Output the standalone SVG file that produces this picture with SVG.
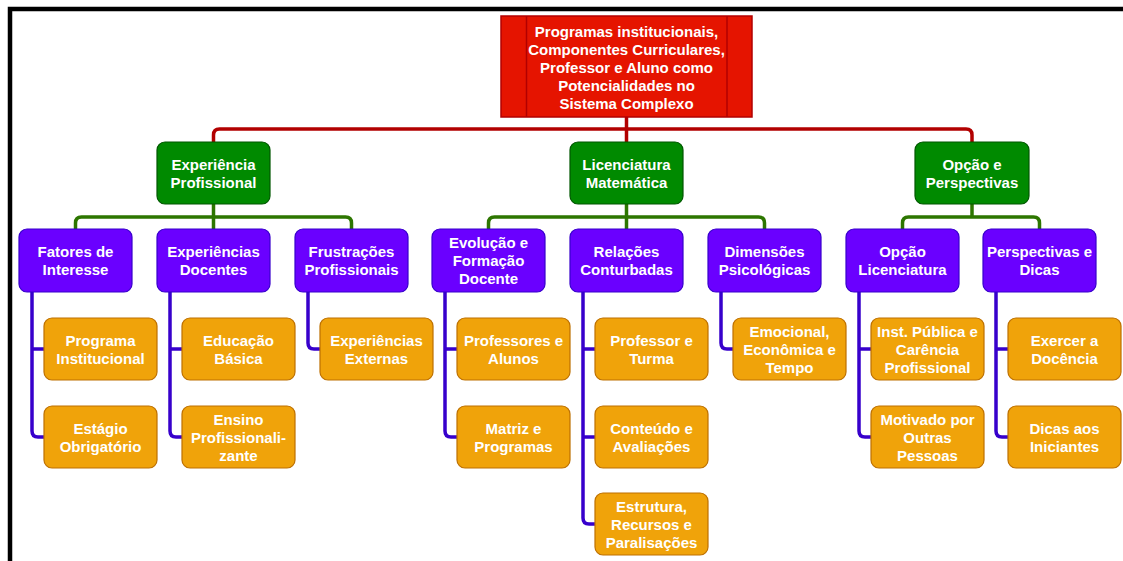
<svg xmlns="http://www.w3.org/2000/svg" width="1123" height="561" viewBox="0 0 1123 561">
<style>
text{font-family:"Liberation Sans",Arial,Helvetica,sans-serif;font-weight:bold;font-size:15px;fill:#fff;text-anchor:middle}
.root{fill:#e51400;stroke:#b20000;stroke-width:1.5}
.l1{fill:#008a00;stroke:#005700;stroke-width:1.2}
.l2{fill:#6a00ff;stroke:#3700cc;stroke-width:1.2}
.l3{fill:#f0a30a;stroke:#bd7000;stroke-width:1.2}
.cr{fill:none;stroke:#b20000;stroke-width:3.5}
.cg{fill:none;stroke:#2d7600;stroke-width:3.5}
.cp{fill:none;stroke:#3700cc;stroke-width:3.5}
</style>
<rect width="1123" height="561" fill="#fff"/>
<path d="M10,561 V9 H1123" fill="none" stroke="#000" stroke-width="4.5"/>
<g id="connectors">
<path class="cr" d="M213.5,142 V135 Q213.5,129 219.5,129 H966 Q972,129 972,135 V142 M626.5,117 V142"/>
<path class="cg" d="M75.5,229 V223 Q75.5,217 81.5,217 H345.5 Q351.5,217 351.5,223 V229 M213.5,204 V229"/>
<path class="cg" d="M488.5,229 V223 Q488.5,217 494.5,217 H758.5 Q764.5,217 764.5,223 V229 M626.5,204 V229"/>
<path class="cg" d="M902.5,229 V223 Q902.5,217 908.5,217 H1033.5 Q1039.5,217 1039.5,223 V229 M972,204 V217"/>
<path class="cp" d="M32,292 V431 Q32,437 38,437 H44 M32,349 H44"/>
<path class="cp" d="M170,292 V431 Q170,437 176,437 H182 M170,349 H182"/>
<path class="cp" d="M308,292 V343 Q308,349 314,349 H320"/>
<path class="cp" d="M445,292 V431 Q445,437 451,437 H457 M445,349 H457"/>
<path class="cp" d="M583,292 V518 Q583,524 589,524 H595 M583,349 H595 M583,437 H595"/>
<path class="cp" d="M721,292 V343 Q721,349 727,349 H733"/>
<path class="cp" d="M859,292 V431 Q859,437 865,437 H871 M859,349 H871"/>
<path class="cp" d="M996,292 V431 Q996,437 1002,437 H1008 M996,349 H1008"/>
</g>
<g id="root">
<rect class="root" x="501" y="16" width="251" height="101"/>
<path d="M526.5,16 V117 M727,16 V117" stroke="#b20000" stroke-width="1.5"/>
<text x="626.5" y="37">Programas institucionais,</text>
<text x="626.5" y="55">Componentes Curriculares,</text>
<text x="626.5" y="73">Professor e Aluno como</text>
<text x="626.5" y="91">Potencialidades no</text>
<text x="626.5" y="109">Sistema Complexo</text>
</g>
<g id="experiencia-profissional"><rect class="l1" x="157" y="142" width="113" height="62" rx="8"/><text x="213.5" y="169.5">Experiência</text><text x="213.5" y="187.5">Profissional</text></g>
<g id="licenciatura-matematica"><rect class="l1" x="570" y="142" width="113" height="62" rx="8"/><text x="626.5" y="169.5">Licenciatura</text><text x="626.5" y="187.5">Matemática</text></g>
<g id="opcao-perspectivas"><rect class="l1" x="915" y="142" width="114" height="62" rx="8"/><text x="972" y="169.5">Opção e</text><text x="972" y="187.5">Perspectivas</text></g>
<g id="fatores"><rect class="l2" x="19" y="229" width="113" height="63" rx="8"/><text x="75.5" y="257">Fatores de</text><text x="75.5" y="275">Interesse</text></g>
<g id="exp-docentes"><rect class="l2" x="157" y="229" width="113" height="63" rx="8"/><text x="213.5" y="257">Experiências</text><text x="213.5" y="275">Docentes</text></g>
<g id="frustracoes"><rect class="l2" x="295" y="229" width="113" height="63" rx="8"/><text x="351.5" y="257">Frustrações</text><text x="351.5" y="275">Profissionais</text></g>
<g id="evolucao"><rect class="l2" x="432" y="229" width="113" height="63" rx="8"/><text x="488.5" y="248">Evolução e</text><text x="488.5" y="266">Formação</text><text x="488.5" y="284">Docente</text></g>
<g id="relacoes"><rect class="l2" x="570" y="229" width="113" height="63" rx="8"/><text x="626.5" y="257">Relações</text><text x="626.5" y="275">Conturbadas</text></g>
<g id="dimensoes"><rect class="l2" x="708" y="229" width="113" height="63" rx="8"/><text x="764.5" y="257">Dimensões</text><text x="764.5" y="275">Psicológicas</text></g>
<g id="opcao-licenciatura"><rect class="l2" x="846" y="229" width="113" height="63" rx="8"/><text x="902.5" y="257">Opção</text><text x="902.5" y="275">Licenciatura</text></g>
<g id="perspectivas-dicas"><rect class="l2" x="983" y="229" width="113" height="63" rx="8"/><text x="1039.5" y="257">Perspectivas e</text><text x="1039.5" y="275">Dicas</text></g>
<g id="programa-institucional"><rect class="l3" x="44" y="318" width="113" height="62" rx="8"/><text x="100.5" y="345.5">Programa</text><text x="100.5" y="363.5">Institucional</text></g>
<g id="estagio"><rect class="l3" x="44" y="406" width="113" height="62" rx="8"/><text x="100.5" y="433.5">Estágio</text><text x="100.5" y="451.5">Obrigatório</text></g>
<g id="educacao-basica"><rect class="l3" x="182" y="318" width="113" height="62" rx="8"/><text x="238.5" y="345.5">Educação</text><text x="238.5" y="363.5">Básica</text></g>
<g id="ensino-prof"><rect class="l3" x="182" y="406" width="113" height="62" rx="8"/><text x="238.5" y="424.5">Ensino</text><text x="238.5" y="442.5">Profissionali-</text><text x="238.5" y="460.5">zante</text></g>
<g id="exp-externas"><rect class="l3" x="320" y="318" width="113" height="62" rx="8"/><text x="376.5" y="345.5">Experiências</text><text x="376.5" y="363.5">Externas</text></g>
<g id="professores-alunos"><rect class="l3" x="457" y="318" width="113" height="62" rx="8"/><text x="513.5" y="345.5">Professores e</text><text x="513.5" y="363.5">Alunos</text></g>
<g id="matriz-programas"><rect class="l3" x="457" y="406" width="113" height="62" rx="8"/><text x="513.5" y="433.5">Matriz e</text><text x="513.5" y="451.5">Programas</text></g>
<g id="professor-turma"><rect class="l3" x="595" y="318" width="113" height="62" rx="8"/><text x="651.5" y="345.5">Professor e</text><text x="651.5" y="363.5">Turma</text></g>
<g id="conteudo-avaliacoes"><rect class="l3" x="595" y="406" width="113" height="62" rx="8"/><text x="651.5" y="433.5">Conteúdo e</text><text x="651.5" y="451.5">Avaliações</text></g>
<g id="estrutura"><rect class="l3" x="595" y="493" width="113" height="62" rx="8"/><text x="651.5" y="511.5">Estrutura,</text><text x="651.5" y="529.5">Recursos e</text><text x="651.5" y="547.5">Paralisações</text></g>
<g id="emocional"><rect class="l3" x="733" y="318" width="113" height="62" rx="8"/><text x="789.5" y="336.5">Emocional,</text><text x="789.5" y="354.5">Econômica e</text><text x="789.5" y="372.5">Tempo</text></g>
<g id="inst-publica"><rect class="l3" x="871" y="318" width="113" height="62" rx="8"/><text x="927.5" y="336.5">Inst. Pública e</text><text x="927.5" y="354.5">Carência</text><text x="927.5" y="372.5">Profissional</text></g>
<g id="motivado"><rect class="l3" x="871" y="406" width="113" height="62" rx="8"/><text x="927.5" y="424.5">Motivado por</text><text x="927.5" y="442.5">Outras</text><text x="927.5" y="460.5">Pessoas</text></g>
<g id="exercer"><rect class="l3" x="1008" y="318" width="113" height="62" rx="8"/><text x="1064.5" y="345.5">Exercer a</text><text x="1064.5" y="363.5">Docência</text></g>
<g id="dicas"><rect class="l3" x="1008" y="406" width="113" height="62" rx="8"/><text x="1064.5" y="433.5">Dicas aos</text><text x="1064.5" y="451.5">Iniciantes</text></g>
</svg>
